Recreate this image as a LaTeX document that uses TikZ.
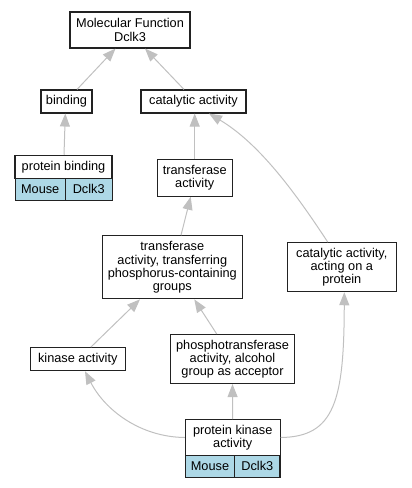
\documentclass[tikz,border=0pt]{standalone}
\usepackage{fontspec}
\setmainfont{Liberation Sans}
\usetikzlibrary{arrows.meta}
\definecolor{edgegray}{HTML}{C0C0C0}
\definecolor{cellblue}{HTML}{ADD8E6}
\definecolor{boxline}{HTML}{222222}
\begin{document}
\begin{tikzpicture}[x=1bp,y=-1bp,
  term/.style={draw=boxline,line width=1.1bp,fill=white,rectangle,inner sep=0pt,align=center,
    font=\fontsize{12.8}{13.2}\selectfont},
  cell/.style={term,fill=cellblue},
  link/.style={draw=edgegray,line width=1bp,-{Triangle[length=13bp,width=10bp,fill=edgegray]}}]
\useasboundingbox (0,0) rectangle (411,488);
% nodes
\node[term,minimum width=120bp,minimum height=36bp] (mf) at (130,30) {Molecular Function\\Dclk3};
\node[term,minimum width=51bp,minimum height=23bp] (bind) at (66.5,101.5) {binding};
\node[term,minimum width=105bp,minimum height=23bp] (cat) at (193.5,101.5) {catalytic activity};
\node[term,minimum width=97bp,minimum height=23bp] (pbind) at (63.5,166.8) {protein binding};
\node[cell,minimum width=50bp,minimum height=22bp] (pbm) at (40.2,189.2) {Mouse};
\node[cell,minimum width=47bp,minimum height=22bp] (pbd) at (88.7,189.2) {Dclk3};
\node[term,minimum width=75bp,minimum height=37bp] (trans) at (194.7,177.7) {transferase\\activity};
\node[term,minimum width=140bp,minimum height=63bp] (tphos) at (172.3,267.3) {transferase\\activity, transferring\\phosphorus-containing\\groups};
\node[term,minimum width=109bp,minimum height=49bp] (cprot) at (341.8,267.2) {catalytic activity,\\acting on a\\protein};
\node[term,minimum width=95bp,minimum height=23bp] (kin) at (77.8,359.2) {kinase activity};
\node[term,minimum width=124bp,minimum height=49bp] (phos) at (232.5,359) {phosphotransferase\\activity, alcohol\\group as acceptor};
\node[term,minimum width=94.7bp,minimum height=35.7bp] (pk) at (232.7,437.5) {protein kinase\\activity};
\node[cell,minimum width=49.4bp,minimum height=22bp] (pkm) at (210,466.3) {Mouse};
\node[cell,minimum width=45.3bp,minimum height=22bp] (pkd) at (257.35,466.3) {Dclk3};
% edges
\draw[link] ([xshift=10.5bp]bind.north) -- ([xshift=-14.5bp]mf.south);
\draw[link] ([xshift=-9.5bp]cat.north) -- ([xshift=15bp]mf.south);
\draw[link] ([xshift=0.5bp]pbind.north) -- ([xshift=-1.2bp]bind.south);
\draw[link] (trans.north) -- ([xshift=1.2bp]cat.south);
\draw[link] ([xshift=-14bp]cprot.north) .. controls (300,200) and (262,145) .. ([xshift=15.5bp]cat.south);
\draw[link] ([xshift=8.7bp]tphos.north) -- ([xshift=-4bp]trans.south);
\draw[link] ([xshift=13bp]kin.north) -- ([xshift=-32.3bp]tphos.south);
\draw[link] ([xshift=-15.8bp]phos.north) -- ([xshift=22bp]tphos.south);
\draw[link] (pk.west) .. controls (140,437) and (105,410) .. ([xshift=7.2bp]kin.south);
\draw[link] (pk.north) -- (phos.south);
\draw[link] (pk.east) .. controls (335,437) and (344,400) .. ([xshift=2.5bp]cprot.south);
\end{tikzpicture}
\end{document}
